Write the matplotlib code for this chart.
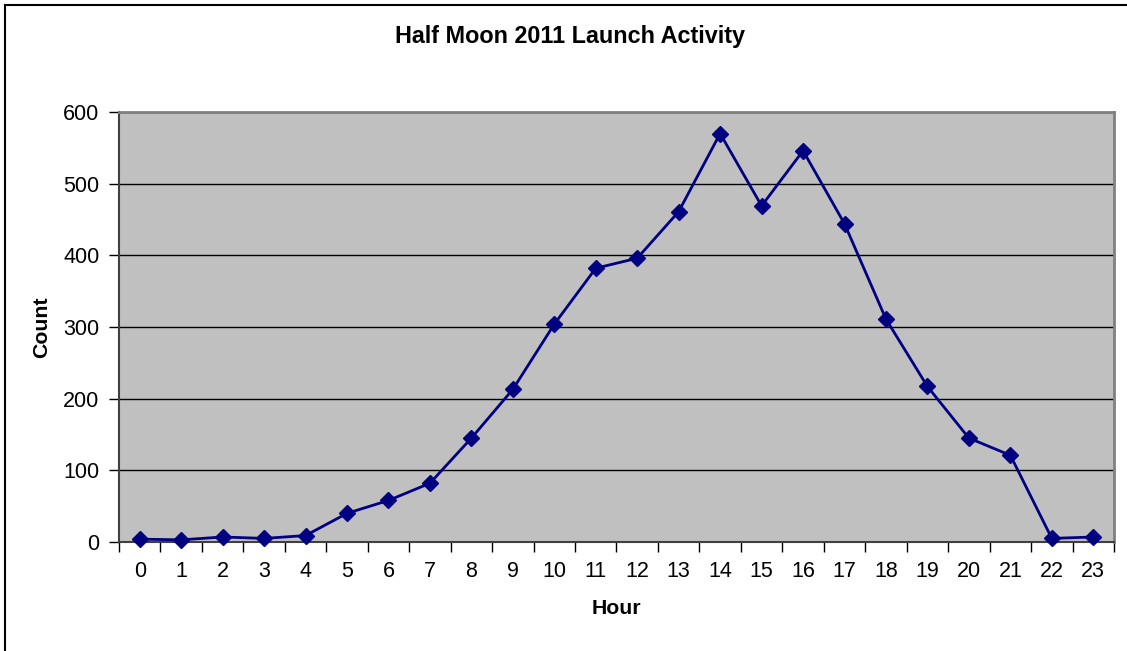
import matplotlib
matplotlib.use("Agg")
import matplotlib.pyplot as plt
from matplotlib.lines import Line2D

plt.rcParams['font.family'] = ['Liberation Sans', 'DejaVu Sans']

hours = list(range(24))
hour_labels = [str(h) for h in hours]
counts = [4, 3, 7, 5, 9, 40, 58, 82, 145, 213, 304, 382, 396, 461,
          570, 469, 546, 444, 311, 217, 145, 121, 5, 7]
y_ticks = [0, 100, 200, 300, 400, 500, 600]

W, H = 1127, 651
fig = plt.figure(figsize=(W / 100, H / 100), dpi=100)
fig.patch.set_facecolor('white')

# outer chart border (top and left visible)
fig.add_artist(Line2D([4.5 / W, 4.5 / W], [0, 1 - 4.5 / H], color='black', lw=1.5, transform=fig.transFigure))
fig.add_artist(Line2D([4.5 / W, 1], [1 - 4.5 / H, 1 - 4.5 / H], color='black', lw=1.5, transform=fig.transFigure))

left, right, top, bottom = 119, 1114, 112, 542
ax = fig.add_axes([left / W, 1 - bottom / H, (right - left) / W, (bottom - top) / H])
ax.set_facecolor('#C0C0C0')

ax.set_xlim(-0.5, 23.5)
ax.set_ylim(0, 600)
ax.set_yticks(y_ticks)
ax.set_yticklabels([str(v) for v in y_ticks])
ax.yaxis.grid(True, color='black', lw=1.0)
ax.set_axisbelow(True)

ax.set_xticks([h - 0.5 for h in hours] + [23.5])
ax.set_xticklabels([])
ax.set_xticks(hours, minor=True)
ax.set_xticklabels(hour_labels, minor=True)
ax.tick_params(axis='x', which='major', direction='out', length=7, width=1, color='black')
ax.tick_params(axis='x', which='minor', length=0, pad=14, labelsize=15.5)
ax.tick_params(axis='y', direction='out', length=7, width=1, color='black', pad=7, labelsize=15.5)

for s in ['top', 'right']:
    ax.spines[s].set_color('#808080')
    ax.spines[s].set_linewidth(2)
ax.spines['left'].set_color('#404040')
ax.spines['left'].set_linewidth(1.5)
ax.spines['bottom'].set_color('#404040')
ax.spines['bottom'].set_linewidth(1.5)

ax.plot(hours, counts, color='#000080', lw=2.0, marker='D', markersize=8.3,
        markerfacecolor='#000080', markeredgecolor='#000080', zorder=5, clip_on=False)

fig.text(570 / W, 1 - 37 / H, 'Half Moon 2011 Launch Activity', ha='center', va='center',
         fontsize=16.8, fontweight='bold')
fig.text(616 / W, 1 - 609 / H, 'Hour', ha='center', va='center', fontsize=15.3, fontweight='bold')
fig.text(42 / W, 1 - 327 / H, 'Count', ha='center', va='center', fontsize=15.3, fontweight='bold',
         rotation=90)

fig.savefig('out.png', dpi=100)
